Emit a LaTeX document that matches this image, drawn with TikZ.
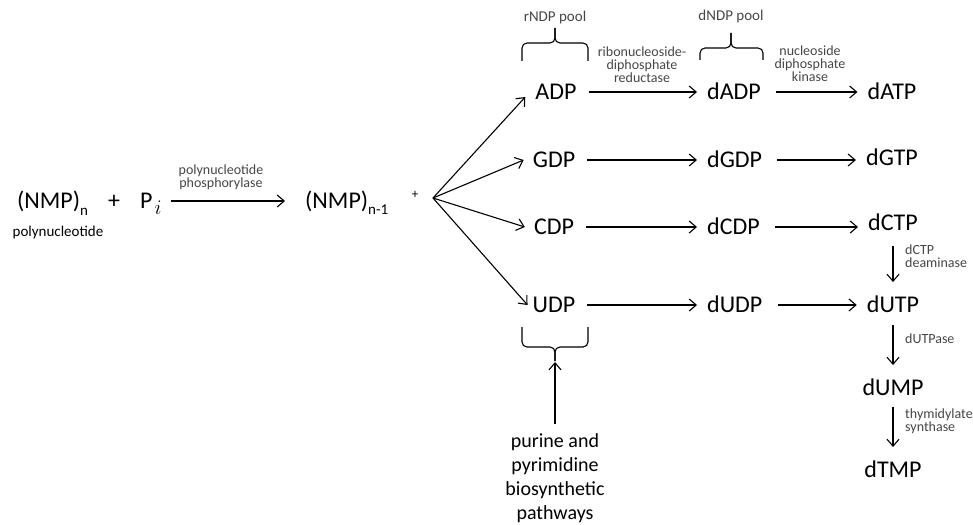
\documentclass[tikz,border=0pt]{standalone}
\usepackage{fontspec}
\setmainfont{Carlito}
\usetikzlibrary{arrows.meta}
\definecolor{labgray}{RGB}{70,70,70}
\begin{document}
\begin{tikzpicture}[x=1pt,y=-1pt,
  main/.style={font=\fontsize{24}{28}\selectfont, inner sep=0pt, text height=15.5pt, text depth=0pt},
  lab/.style={font=\fontsize{14}{13}\selectfont, text=labgray, align=center, inner sep=0pt},
  pool/.style={font=\fontsize{15}{18}\selectfont, text=labgray, inner sep=0pt},
  bio/.style={font=\fontsize{20}{24}\selectfont, align=center, inner sep=0pt},
  arr/.style={-{Straight Barb[length=7pt,width=12pt]}, line width=1.1pt},
  brace/.style={line width=1.1pt, rounded corners=5pt}
]
\useasboundingbox (0,0) rectangle (973,524);

% left reaction
\node[main, anchor=west] (nmpn) at (17,201) {(NMP)\raisebox{-7pt}{\fontsize{15}{15}\selectfont n}};
\node[main] (plus1) at (114,201) {+};
\node[main, anchor=west] (pi) at (140,201) {P\hspace{2pt}\raisebox{-6pt}{\fontsize{20}{20}\selectfont$i$}};
\node[font=\fontsize{15}{18}\selectfont, inner sep=0pt] (polyn) at (58,232) {polynucleotide};
\node[lab] (pnp) at (221,177) {polynucleotide\\phosphorylase};
\node[main, anchor=west] (nmpn1) at (305,201) {(NMP)\raisebox{-6pt}{\fontsize{15}{15}\selectfont n-1}};
\node[font=\fontsize{13}{13}\selectfont, inner sep=0pt] (plus2) at (415,195) {+};
\coordinate (fan) at (433,198);
\draw[arr, shorten <=9pt, shorten >=20pt] (pi.east) -- (nmpn1.west);

% rNDP column
\node[main] (adp) at (556,92) {ADP};
\node[main] (gdp) at (554,160) {GDP};
\node[main] (cdp) at (554,227) {CDP};
\node[main] (udp) at (554,305) {UDP};

% dNDP column
\node[main, anchor=west] (dadp) at (707,92) {dADP};
\node[main, anchor=west] (dgdp) at (707,160) {dGDP};
\node[main, anchor=west] (dcdp) at (707,227) {dCDP};
\node[main, anchor=west] (dudp) at (707,305) {dUDP};

% dNTP column
\node[main] (datp) at (892,92) {dATP};
\node[main] (dgtp) at (892,158) {dGTP};
\node[main] (dctp) at (893,223) {dCTP};
\node[main] (dutp) at (893,305) {dUTP};
\node[main] (dump) at (893,388) {dUMP};
\node[main] (dtmp) at (893,470) {dTMP};

% fan arrows
\draw[arr] (fan) -- ([xshift=-10pt,yshift=-5pt]adp.west);
\draw[arr] (fan) -- ([xshift=-9pt]gdp.west);
\draw[arr] (fan) -- ([xshift=-9pt]cdp.west);
\draw[arr] (fan) -- ([xshift=-5pt]udp.west);

% horizontal arrows
\draw[arr, shorten <=12pt, shorten >=10pt] (adp.east) -- (dadp.west);
\draw[arr, shorten <=12pt, shorten >=10pt] (gdp.east) -- (dgdp.west);
\draw[arr, shorten <=12pt, shorten >=10pt] (cdp.east) -- (dcdp.west);
\draw[arr, shorten <=12pt, shorten >=10pt] (udp.east) -- (dudp.west);
\draw[arr, shorten <=15pt, shorten >=10pt] (dadp.east) -- (datp.west);
\draw[arr, shorten <=15pt, shorten >=10pt] (dgdp.east) -- (dgtp.west |- dgdp.east);
\draw[arr, shorten <=15pt, shorten >=10pt] (dcdp.east) -- (dctp.west |- dcdp.east);
\draw[arr, shorten <=15pt, shorten >=10pt] (dudp.east) -- (dutp.west);

% vertical arrows
\draw[arr, shorten <=15pt, shorten >=15pt] (dctp.south) -- (dutp.north);
\draw[arr, shorten <=12pt, shorten >=15pt] (dutp.south) -- (dump.north);
\draw[arr, shorten <=11pt, shorten >=15pt] (dump.south) -- (dtmp.north);

% labels
\node[lab, align=left, anchor=west] (dctpd) at (905,256) {dCTP\\deaminase};
\node[lab, anchor=west] (dutpase) at (905,339) {dUTPase};
\node[lab, align=left, anchor=west] (thys) at (905,421) {thymidylate\\synthase};
\node[lab] (rnr) at (642,65) {ribonucleoside-\\diphosphate\\reductase};
\node[lab] (ndk) at (810,64) {nucleoside\\diphosphate\\kinase};
\node[pool] (rpool) at (555,18) {rNDP pool};
\node[pool] (dpool) at (731,17) {dNDP pool};

% braces
\draw[brace] (522,61) |- (555,43) -- (555,28);
\draw[brace] (588,61) |- (555,43) -- (555,28);
\draw[brace] (700,60) |- (731,48) -- (731,33);
\draw[brace] (763,60) |- (731,48) -- (731,33);
\draw[brace] (522,327) |- (555,347) -- (555,361);
\draw[brace] (588,327) |- (555,347) -- (555,361);
\coordinate (btip) at (555,362);

% biosynthesis
\node[bio] (bio) at (555,478) {purine and\\pyrimidine\\biosynthetic\\pathways};
\draw[arr] ([yshift=9pt]bio.north) -- (btip);
\end{tikzpicture}
\end{document}
